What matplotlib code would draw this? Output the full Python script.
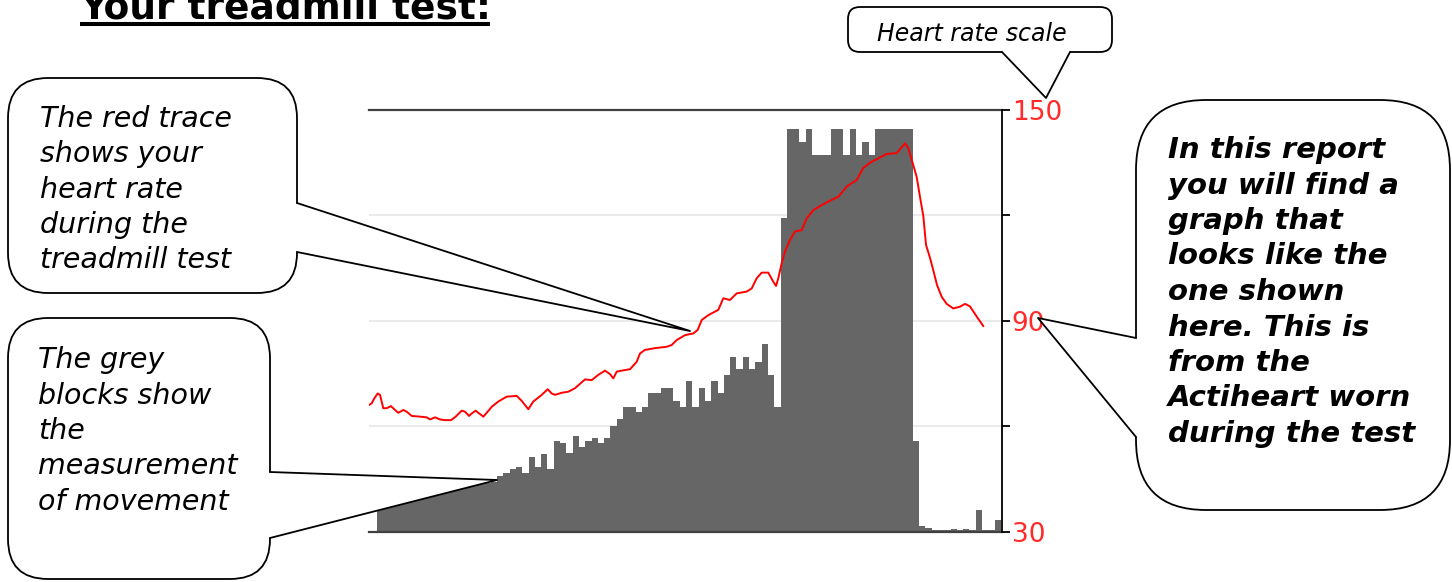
import matplotlib.pyplot as plt
from matplotlib.patches import FancyBboxPatch, Polygon

# movement counts per 15 s epoch (arbitrary units, 0-100)
movement = [
    9.0, 9.2, 9.4, 9.5, 9.7, 9.8, 10.0, 10.1, 10.3, 10.4,
    10.6, 10.7, 10.9, 11.0, 11.2, 11.3, 11.5, 11.6, 11.8, 13.2,
    13.9, 14.8, 15.4, 13.9, 17.7, 15.2, 18.4, 14.8, 21.5, 20.9,
    18.6, 22.7, 20.1, 21.5, 22.1, 20.9, 22.1, 25.1, 26.6, 29.6,
    29.6, 28.4, 29.6, 32.8, 32.8, 34.0, 34.0, 31.0, 29.6, 35.8,
    29.6, 34.0, 31.0, 35.8, 32.8, 37.1, 41.5, 38.5, 41.5, 38.5,
    40.1, 44.6, 37.1, 29.6, 74.3, 95.4, 95.4, 92.3, 95.4, 89.3,
    89.3, 89.3, 95.4, 95.4, 89.3, 95.4, 89.3, 92.3, 89.3, 95.4,
    95.4, 95.4, 95.4, 95.4, 95.4, 21.5, 1.3, 0.8, 0.4, 0.4,
    0.4, 0.5, 0.4, 0.5, 0.4, 5.1, 0.4, 0.4, 2.7,
]

# heart rate trace, time in epochs
hr_time = [
    -1.32, -0.89, -0.48, 0.06, 0.43, 0.95, 1.49, 2.17, 2.81, 3.33,
    4.13, 4.67, 5.46, 6.78, 7.84, 8.37, 9.16, 9.95, 10.75, 11.70,
    12.44, 13.40, 13.92, 14.56, 14.98, 15.62, 16.03, 16.83, 17.37, 18.16,
    19.21, 20.54, 22.13, 22.92, 23.97, 24.76, 26.10, 27.05, 27.68, 28.21,
    29.27, 30.32, 31.38, 32.97, 34.03, 35.08, 36.14, 36.94, 37.46, 38.00,
    38.79, 40.11, 41.17, 41.70, 42.49, 44.08, 45.94, 46.73, 47.52, 48.84,
    50.16, 50.86, 51.49, 52.54, 54.13, 54.92, 55.98, 57.05, 58.63, 59.43,
    60.22, 61.02, 62.06, 62.86, 63.29, 63.65, 64.19, 64.71, 65.51, 66.30,
    67.37, 68.16, 69.21, 70.79, 72.13, 73.17, 74.51, 76.10, 77.14, 78.21,
    79.79, 80.86, 82.44, 83.76, 84.29, 85.08, 85.62, 86.14, 86.67, 87.10,
    87.73, 88.25, 88.84, 89.59, 90.38, 91.43, 92.49, 93.29, 94.08, 95.14,
    96.19,
]
hr_bpm = [
    66.0, 66.5, 67.9, 69.3, 68.9, 65.1, 65.1, 65.7, 64.6, 63.8,
    64.6, 64.1, 62.9, 62.7, 62.5, 61.9, 62.5, 61.9, 61.7, 61.7,
    62.7, 64.4, 64.1, 62.9, 63.6, 64.4, 63.8, 62.7, 63.8, 65.5,
    67.0, 68.4, 68.6, 67.2, 64.8, 67.0, 68.9, 70.5, 69.3, 68.9,
    69.5, 69.8, 70.8, 73.3, 73.1, 74.6, 75.8, 74.8, 73.6, 75.5,
    75.8, 76.2, 78.3, 80.7, 81.7, 82.2, 82.6, 83.1, 84.5, 85.9,
    86.4, 87.4, 90.2, 91.6, 93.1, 96.4, 95.9, 97.8, 98.3, 99.2,
    102.1, 103.7, 103.7, 101.1, 99.9, 102.1, 106.4, 109.7, 113.0, 115.4,
    115.8, 119.2, 121.5, 123.2, 124.4, 125.3, 128.2, 130.1, 133.5, 135.0,
    136.5, 137.5, 137.7, 140.5, 139.1, 134.3, 130.9, 125.3, 119.8, 111.6,
    107.9, 104.4, 100.2, 96.8, 94.8, 93.5, 94.0, 94.8, 94.1, 91.2,
    88.5,
]

hr_ticks = [30, 60, 90, 120, 150]
hr_tick_labels = ["30", "", "90", "", "150"]

W, H = 1452, 582
fig = plt.figure(figsize=(W / 100, H / 100), dpi=100)

# plot box in pixels
left, right, top, bottom = 369, 1002, 110, 531.5
axm = fig.add_axes([left / W, 1 - bottom / H, (right - left) / W, (bottom - top) / H])
ax = axm.twinx()

axm.set_xlim(-1.32, 99.16)
axm.set_ylim(0, 100)
ax.set_ylim(30, 150)

# light grid lines on the heart rate scale, behind the bars
for v in hr_ticks[1:-1]:
    axm.plot([0, 1], [v, v], transform=ax.get_yaxis_transform(),
             color="#e6e6e6", lw=1.2, zorder=0)

axm.bar(range(len(movement)), movement, width=1.0, align="edge",
        color="#666666", linewidth=0, zorder=1)
ax.plot(hr_time, hr_bpm, color="red", lw=1.4)

axm.set_xticks([])
axm.set_yticks([])
for s in ["left", "right"]:
    axm.spines[s].set_visible(False)
for s in ["top", "bottom"]:
    axm.spines[s].set_color("#404040")
    axm.spines[s].set_linewidth(1.6)
for s in ["left", "top", "bottom"]:
    ax.spines[s].set_visible(False)
ax.spines["right"].set_color("black")
ax.spines["right"].set_linewidth(1.3)

ax.set_yticks(hr_ticks)
ax.set_yticklabels(hr_tick_labels)
ax.tick_params(axis="y", direction="out", length=6, width=1.3, color="black",
               labelcolor="#ff2a2a", labelsize=19, pad=1)

# overlay in pixel coordinates for title and callouts
ov = fig.add_axes([0, 0, 1, 1], zorder=10)
ov.set_xlim(0, W)
ov.set_ylim(H, 0)
ov.axis("off")


def bubble(x0, y0, x1, y1, r, a, b, tip, inward):
    ov.add_patch(FancyBboxPatch((x0, y0), x1 - x0, y1 - y0,
                                boxstyle=f"round,pad=0,rounding_size={r}",
                                fc="white", ec="black", lw=1.3))
    a_in = (a[0] + inward[0], a[1] + inward[1])
    b_in = (b[0] + inward[0], b[1] + inward[1])
    ov.add_patch(Polygon([a_in, a, tip, b, b_in], closed=True,
                         fc="white", ec="none"))
    ov.plot([a[0], tip[0], b[0]], [a[1], tip[1], b[1]], color="black", lw=1.3)


bubble(8, 78, 297, 293, 40, (297, 203), (297, 252), (690, 331), (-6, 0))
bubble(8, 318, 270, 579, 40, (270, 472), (270, 538), (497, 480), (-6, 0))
bubble(848, 7, 1112, 52, 12, (1002, 52), (1070, 52), (1046, 98), (0, -5))
bubble(1136, 100, 1450, 510, 70, (1136, 338), (1136, 437), (1038, 318), (6, 0))

font = "DejaVu Sans"

for i, line in enumerate(["The red trace", "shows your", "heart rate",
                          "during the", "treadmill test"]):
    ov.text(40, 127 + 35.3 * i, line, fontsize=20.5, style="italic",
            family=font, va="baseline")

for i, line in enumerate(["The grey", "blocks show", "the",
                          "measurement", "of movement"]):
    ov.text(38, 368 + 35.5 * i, line, fontsize=20.5, style="italic",
            family=font, va="baseline")

for i, line in enumerate(["In this report", "you will find a", "graph that",
                          "looks like the", "one shown", "here. This is",
                          "from the", "Actiheart worn", "during the test"]):
    ov.text(1168, 158 + 35.5 * i, line, fontsize=21, style="italic",
            weight="bold", family=font, va="baseline")

ov.text(877, 41, "Heart rate scale", fontsize=17, style="italic",
        family=font, va="baseline")

ov.text(80, 18.5, "Your treadmill test:", fontsize=27, weight="bold",
        family=font, va="baseline")
ov.plot([80, 490], [24.2, 24.2], color="black", lw=2.9, solid_capstyle="butt")

fig.savefig("out.png", dpi=100)
